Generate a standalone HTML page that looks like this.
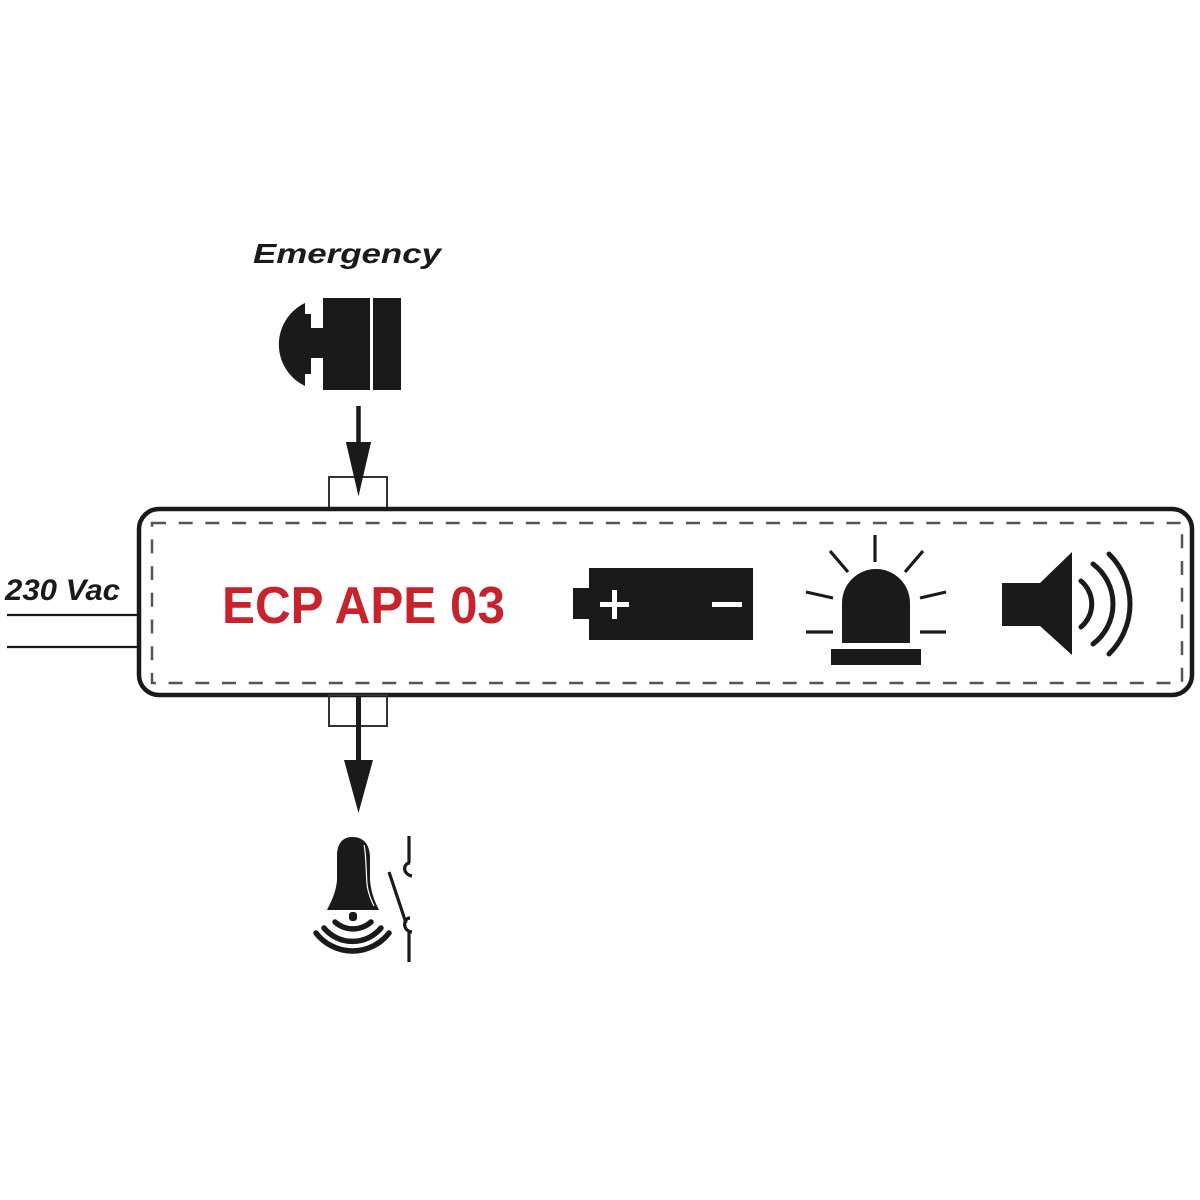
<!DOCTYPE html>
<html>
<head>
<meta charset="utf-8">
<style>
html,body{margin:0;padding:0;background:#fff;}
svg{display:block;}
text{font-family:"Liberation Sans",Arial,sans-serif;}
</style>
</head>
<body>
<svg width="1200" height="1200" viewBox="0 0 1200 1200" xmlns="http://www.w3.org/2000/svg">
  <rect width="1200" height="1200" fill="#fff"/>

  <!-- Emergency label -->
  <text x="253" y="263" font-size="28" font-weight="bold" font-style="italic" fill="#1a1a1a" textLength="188" lengthAdjust="spacingAndGlyphs">Emergency</text>

  <!-- Emergency button icon -->
  <path d="M305,303 A46,46 0 0,0 305,386 Z" fill="#1a1a1a"/>
  <rect x="303" y="314" width="8" height="60" fill="#1a1a1a"/>
  <rect x="309" y="328" width="16" height="30" fill="#1a1a1a"/>
  <rect x="323" y="298" width="47" height="92" fill="#1a1a1a"/>
  <rect x="373" y="298" width="28" height="92" fill="#1a1a1a"/>

  <!-- Top arrow -->
  <line x1="358.5" y1="406" x2="358.5" y2="446" stroke="#1a1a1a" stroke-width="4.5"/>
  <polygon points="346,442 371,442 358.5,496" fill="#1a1a1a"/>

  <!-- Top port -->
  <rect x="329" y="477" width="58" height="32" fill="none" stroke="#333" stroke-width="2"/>
  <polygon points="346,442 371,442 358.5,496" fill="#1a1a1a"/>

  <!-- Wires -->
  <line x1="7" y1="615" x2="139" y2="615" stroke="#1a1a1a" stroke-width="2.2"/>
  <line x1="7" y1="647" x2="139" y2="647" stroke="#1a1a1a" stroke-width="2.2"/>
  <text x="5" y="600" font-size="30" font-weight="bold" font-style="italic" fill="#1a1a1a" textLength="115" lengthAdjust="spacingAndGlyphs">230 Vac</text>

  <!-- Main box -->
  <rect x="139" y="509" width="1053" height="186" rx="20" ry="20" fill="#fff" stroke="#1a1a1a" stroke-width="4.5"/>
  <rect x="152" y="523" width="1030" height="160" fill="none" stroke="#555" stroke-width="2.5" stroke-dasharray="14 12.7"/>

  <!-- Bottom port -->
  <rect x="329" y="695" width="58" height="31" fill="none" stroke="#333" stroke-width="2"/>
  <line x1="358.5" y1="697" x2="358.5" y2="764" stroke="#1a1a1a" stroke-width="5"/>
  <polygon points="344,760 373,760 358.5,813" fill="#1a1a1a"/>

  <!-- Title -->
  <text x="222" y="623" font-size="52" font-weight="bold" fill="#c8232c" textLength="283" lengthAdjust="spacingAndGlyphs">ECP APE 03</text>

  <!-- Battery -->
  <rect x="573" y="588" width="18" height="31" fill="#1a1a1a"/>
  <rect x="589" y="568" width="164" height="72" fill="#1a1a1a"/>
  <rect x="600" y="602" width="29" height="5" fill="#fff"/>
  <rect x="612" y="590" width="5" height="29" fill="#fff"/>
  <rect x="712" y="602" width="30" height="5" fill="#fff"/>

  <!-- Beacon -->
  <path d="M842,643 L842,603 A34,34 0 0,1 910,603 L910,643 Z" fill="#1a1a1a"/>
  <rect x="831" y="649" width="90" height="16" fill="#1a1a1a"/>
  <g stroke="#1a1a1a" stroke-width="3.2" stroke-linecap="butt">
    <line x1="875" y1="535" x2="875" y2="562"/>
    <line x1="830" y1="551" x2="848" y2="572"/>
    <line x1="923" y1="551" x2="905" y2="572"/>
    <line x1="806" y1="592" x2="833" y2="598"/>
    <line x1="920" y1="598" x2="946" y2="592"/>
    <line x1="806" y1="632" x2="833" y2="632"/>
    <line x1="920" y1="632" x2="946" y2="632"/>
  </g>

  <!-- Speaker -->
  <rect x="1002" y="583" width="40" height="43" fill="#1a1a1a"/>
  <polygon points="1040,583 1072,552 1072,655 1040,626" fill="#1a1a1a"/>
  <g fill="none" stroke="#1a1a1a" stroke-width="5" stroke-linecap="round">
    <path d="M1081,581 A30,30 0 0,1 1081,627"/>
    <path d="M1093,564 A50,50 0 0,1 1093,644"/>
    <path d="M1109,554 A70,70 0 0,1 1109,654"/>
  </g>

  <!-- Bell -->
  <path d="M327,910 C332,900 336,892 337,880 L337,856 C337,842 344,837 352,837 C362,837 369,842 370,856 L370,880 C371,892 374,900 379,910 Z" fill="#1a1a1a"/>
  <path d="M364,845 C366,852 366,870 367,884 C368,893 371,900 374,906" fill="none" stroke="#fff" stroke-width="1.2"/>
  <rect x="349" y="912" width="8" height="9" rx="3" fill="#1a1a1a"/>
  <g fill="none" stroke="#1a1a1a" stroke-width="5.5" stroke-linecap="round">
    <path d="M335,922 A27,27 0 0,0 371,922"/>
    <path d="M324,928 A37,37 0 0,0 381,928"/>
    <path d="M316,933 A46,46 0 0,0 389,933"/>
  </g>

  <!-- Switch -->
  <g fill="none" stroke="#1a1a1a" stroke-width="3.2">
    <line x1="409" y1="836" x2="409" y2="863"/>
    <path d="M410,863 C403,863 402,874 412,876"/>
    <line x1="389" y1="872" x2="406" y2="923"/>
    <path d="M410,918 C403,918 402,931 412,932"/>
    <line x1="409" y1="931" x2="409" y2="962"/>
  </g>
</svg>
</body>
</html>
